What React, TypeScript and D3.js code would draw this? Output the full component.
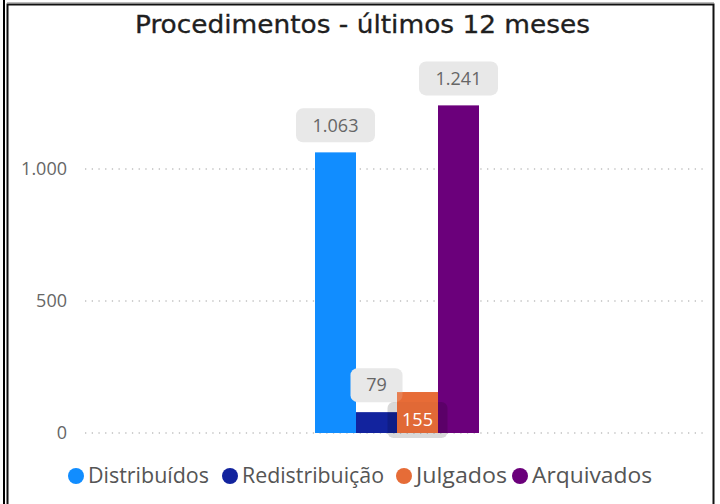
import React from "react";
import * as d3 from "d3";

const categories = ["Distribuídos", "Redistribuição", "Julgados", "Arquivados"];
const values = [1063, 79, 155, 1241];
const colors = ["#118DFF", "#12239E", "#E66C37", "#6B007B"];
const yTicks = [0, 500, 1000];
const labelTexts = ["1.063", "79", "155", "1.241"];
const title = "Procedimentos - últimos 12 meses";

const fmt = (v: number) => d3.format(",")(v).replace(/,/g, ".");

export default function App() {
  const W = 720, H = 504;
  const y = d3.scaleLinear().domain([0, 1000]).range([433, 169]);
  const x = d3.scaleBand<string>().domain(categories).range([315, 479]).padding(0);
  const numFont = "'Open Sans', 'Noto Sans', sans-serif";
  const legendX = [76, 230, 404, 520];
  const legendW = [121, 142, 91, 120];

  return (
    <svg width={W} height={H} style={{ position: "fixed", left: 0, top: 0, background: "#fff" }}>
      <rect x={0} y={0} width={W} height={H} fill="#fff" />
      {/* frames */}
      <line x1={4} y1={0} x2={4} y2={H} stroke="#000" strokeWidth={2} />
      <path d={`M7.5,${H} V4.5 H713.5 V${H}`} fill="none" stroke="#111" strokeWidth={2} />
      <line x1={7} y1={2.5} x2={714} y2={2.5} stroke="#bbb" strokeWidth={1} />
      {/* title */}
      <text x={135} y={33} textLength={455} lengthAdjust="spacingAndGlyphs" fontFamily="'DejaVu Sans Condensed', 'DejaVu Sans', sans-serif" fontSize={25} fill="#1f1f1f" stroke="#1f1f1f" strokeWidth={0.3}>
        {title}
      </text>
      {/* grid */}
      {yTicks.map((t) => (
        <g key={t}>
          <line x1={85} x2={705} y1={y(t)} y2={y(t)} stroke="#c0c0c0" strokeWidth={1.3} strokeDasharray="1.3,5.4" />
          <text x={67} y={y(t)} dy="0.35em" textAnchor="end" fontFamily={numFont} fontSize={18} fill="#666">
            {fmt(t)}
          </text>
        </g>
      ))}
      {/* bars */}
      {categories.map((c, i) => (
        <rect key={c} x={x(c)} y={y(values[i])} width={x.bandwidth()} height={y(0) - y(values[i])} fill={colors[i]} />
      ))}
      {/* labels */}
      {categories.map((c, i) => {
        const cx = (x(c) as number) + x.bandwidth() / 2;
        const v = values[i];
        const txt = labelTexts[i];
        if (c === "Julgados") {
          return (
            <g key={c}>
              <rect x={cx - 30} y={402} width={60} height={36} rx={6} fill="#000" opacity={0.15} />
              <rect x={x(c)} y={y(v)} width={x.bandwidth()} height={y(0) - y(v)} fill={colors[i]} opacity={0.85} />
              <text x={cx} y={420} dy="0.35em" textAnchor="middle" fontFamily={numFont} fontSize={18} fill="#fff">
                {txt}
              </text>
            </g>
          );
        }
        const w = txt.length > 2 ? 79 : 52;
        const h = 34;
        const bottom = y(v) - 10;
        return (
          <g key={c}>
            <rect x={cx - w / 2} y={bottom - h} width={w} height={h} rx={7} fill="#e8e8e8" />
            <text x={cx} y={bottom - h / 2} dy="0.35em" textAnchor="middle" fontFamily={numFont} fontSize={18} fill="#666">
              {txt}
            </text>
          </g>
        );
      })}
      {/* legend */}
      {categories.map((c, i) => (
        <g key={c}>
          <circle cx={legendX[i]} cy={476} r={8} fill={colors[i]} />
          <text x={legendX[i] + 12} y={476} dy="0.35em" textLength={legendW[i]} lengthAdjust="spacingAndGlyphs" fontFamily={numFont} fontSize={21} fill="#555">
            {c}
          </text>
        </g>
      ))}
    </svg>
  );
}
